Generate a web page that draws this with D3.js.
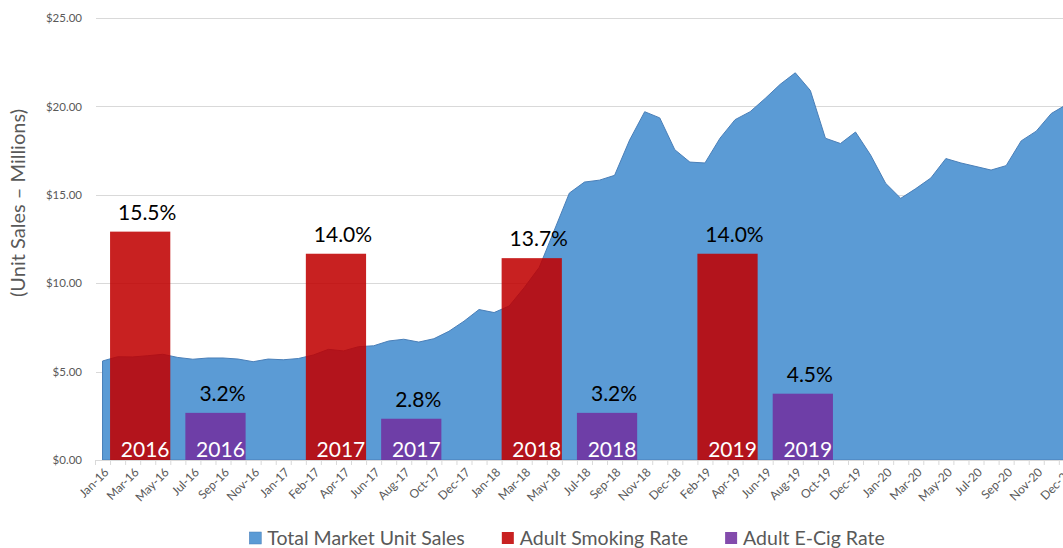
<!DOCTYPE html>
<html>
<head>
<meta charset="utf-8">
<script src="https://cdn.jsdelivr.net/npm/d3@7"></script>
<style>
  body { margin: 0; background: #fff; }
  text { font-family: Lato, "Open Sans", sans-serif; }
</style>
</head>
<body>
<script>
// 4-week periods, 13 per year
const periods = [
  'Jan-16','Feb-16','Mar-16','Apr-16','May-16','Jun-16','Jul-16','Aug-16','Sep-16','Oct-16','Nov-16','Dec-16','Jan-17',
  'Jan-17','Feb-17','Mar-17','Apr-17','May-17','Jun-17','Jul-17','Aug-17','Sep-17','Oct-17','Nov-17','Dec-17','Dec-17',
  'Jan-18','Feb-18','Mar-18','Apr-18','May-18','Jun-18','Jul-18','Aug-18','Sep-18','Oct-18','Nov-18','Nov-18','Dec-18',
  'Jan-19','Feb-19','Mar-19','Apr-19','May-19','Jun-19','Jul-19','Aug-19','Sep-19','Oct-19','Nov-19','Dec-19','Dec-19',
  'Jan-20','Feb-20','Mar-20','Apr-20','May-20','Jun-20','Jul-20','Aug-20','Sep-20','Oct-20','Nov-20','Nov-20','Dec-20'
]

// total market unit sales, millions
const unitSales = [
  5.60, 5.84, 5.83, 5.90, 5.98, 5.80, 5.70, 5.77, 5.77, 5.71, 5.56, 5.71, 5.67,
  5.74, 5.94, 6.26, 6.17, 6.41, 6.46, 6.73, 6.83, 6.67, 6.86, 7.28, 7.85, 8.51,
  8.34, 8.71, 9.75, 10.90, 13.00, 15.10, 15.72, 15.83, 16.10, 18.10, 19.70, 19.35, 17.55,
  16.85, 16.80, 18.20, 19.25, 19.70, 20.45, 21.25, 21.90, 20.90, 18.20, 17.90, 18.55, 17.25,
  15.65, 14.80, 15.35, 15.95, 17.05, 16.80, 16.60, 16.40, 16.65, 18.05, 18.60, 19.60, 20.10
]

const years = ['2016', '2017', '2018', '2019']
const smokingRate = [15.5, 14.0, 13.7, 14.0]
const ecigRate = [3.2, 2.8, 3.2, 4.5]
// first period covered by each rate bar
const smokingStart = [1, 14, 27, 40]
const ecigStart = [6, 19, 32, 45]

const yTicks = [0, 5, 10, 15, 20, 25]

const W = 1063, H = 548
const left = 95, bw = 15.06
const barSpan = 4

const svg = d3.select('body').append('svg')
    .attr('width', W)
    .attr('height', H)
    .style('background-color', 'white')

const x = d3.scaleBand()
    .domain(d3.range(periods.length))
    .range([left, left + periods.length * bw])
    .padding(0)

const y = d3.scaleLinear()
    .domain([0, 25])
    .range([460, 18])

// hidden secondary axis for the rate bars
const yRate = d3.scaleLinear()
    .domain([0, 30])
    .range([460, 18])

// gridlines
svg.append('g')
    .selectAll('line')
    .data(yTicks.filter(d => d > 0))
    .join('line')
    .attr('x1', left + 1)
    .attr('x2', W)
    .attr('y1', d => Math.round(y(d)) + 0.5)
    .attr('y2', d => Math.round(y(d)) + 0.5)
    .style('stroke', '#d9d9d9')
    .style('stroke-width', 1)

// y labels
svg.append('g')
    .attr('transform', `translate(${left}, 0)`)
    .call(d3.axisLeft(y).tickValues(yTicks).tickSize(0).tickPadding(13)
        .tickFormat(d => '$' + d.toFixed(2)))
    .call(g => g.select('.domain').remove())
    .selectAll('text')
    .style('font-family', 'Lato, sans-serif')
    .style('font-size', '11.5px')
    .style('fill', '#595959')

svg.append('text')
    .attr('transform', 'translate(25, 203) rotate(-90)')
    .attr('text-anchor', 'middle')
    .style('font-size', '20px')
    .style('fill', '#595959')
    .text('(Unit Sales – Millions)')

// area
const area = d3.area()
    .x((d, i) => x(i) + x.bandwidth() / 2)
    .y0(y(0))
    .y1(d => y(d))

svg.append('path')
    .datum(unitSales)
    .style('fill', '#5b9bd5')
    .style('stroke', '#4a7fb8')
    .style('stroke-width', 1)
    .attr('d', area)

// rate bars
const bars = years.map((yr, i) => [
    {year: yr, rate: smokingRate[i], start: smokingStart[i], color: '#c00000'},
    {year: yr, rate: ecigRate[i], start: ecigStart[i], color: '#7030a0'}
]).flat()

const barG = svg.append('g')

barG.selectAll('rect')
    .data(bars)
    .join('rect')
    .attr('x', d => x(d.start))
    .attr('width', barSpan * x.bandwidth())
    .attr('y', d => yRate(d.rate))
    .attr('height', d => yRate(0) - yRate(d.rate))
    .style('fill', d => d.color)
    .style('fill-opacity', 0.87)

barG.selectAll('text.rate')
    .data(bars)
    .join('text')
    .attr('class', 'rate')
    .attr('x', d => x(d.start) + barSpan * x.bandwidth() / 2 + 7)
    .attr('y', d => yRate(d.rate) - 12)
    .attr('text-anchor', 'middle')
    .style('font-size', '21px')
    .style('fill', '#000')
    .text(d => d.rate.toFixed(1) + '%')

barG.selectAll('text.year')
    .data(bars)
    .join('text')
    .attr('class', 'year')
    .attr('x', d => x(d.start) + barSpan * x.bandwidth() / 2 + 5)
    .attr('y', yRate(0) - 3)
    .attr('text-anchor', 'middle')
    .style('font-size', '21px')
    .style('fill', '#fff')
    .text(d => d.year)

// x axis with ticks on period boundaries
const xEdge = d3.scaleLinear()
    .domain([0, periods.length])
    .range(x.range())

svg.append('g')
    .attr('transform', `translate(0, ${y(0)})`)
    .call(d3.axisBottom(xEdge).tickValues(d3.range(periods.length + 1)).tickSize(5).tickFormat(''))
    .call(g => g.select('.domain').attr('d', `M${left},0.5H${W}`).style('stroke', '#d9d9d9'))
    .call(g => g.selectAll('.tick line').style('stroke', '#d9d9d9'))

svg.append('g')
    .selectAll('text')
    .data(periods.map((p, i) => ({p, i})).filter(d => d.i % 2 === 0))
    .join('text')
    .attr('transform', d => `translate(${x(d.i) + x.bandwidth() / 2 + 4}, ${y(0) + 10}) rotate(-45)`)
    .attr('text-anchor', 'end')
    .attr('dy', '0.35em')
    .style('font-size', '12px')
    .style('fill', '#595959')
    .text(d => d.p)

// legend
const legendItems = [
    {name: 'Total Market Unit Sales', color: '#5b9bd5', op: 1},
    {name: 'Adult Smoking Rate', color: '#c00000', op: 0.87},
    {name: 'Adult E-Cig Rate', color: '#7030a0', op: 0.87}
]

const legend = svg.append('g')
const items = legend.selectAll('g')
    .data(legendItems)
    .join('g')

items.append('rect')
    .attr('width', 12)
    .attr('height', 12)
    .attr('y', -6)
    .style('fill', d => d.color)
    .style('fill-opacity', d => d.op)
    .style('stroke', d => d.op === 1 ? '#4a7fb8' : 'none')
    .style('stroke-width', 0.5)

items.append('text')
    .attr('x', 18)
    .attr('dy', '0.35em')
    .style('font-size', '19.5px')
    .style('fill', '#595959')
    .text(d => d.name)

let lx = 0
const gap = 37
items.each(function () {
    const w = 18 + this.querySelector('text').getComputedTextLength()
    d3.select(this).attr('transform', `translate(${lx}, 0)`)
    lx += w + gap
})
const total = lx - gap
legend.attr('transform', `translate(${567 - total / 2}, 538)`)
</script>
</body>
</html>
